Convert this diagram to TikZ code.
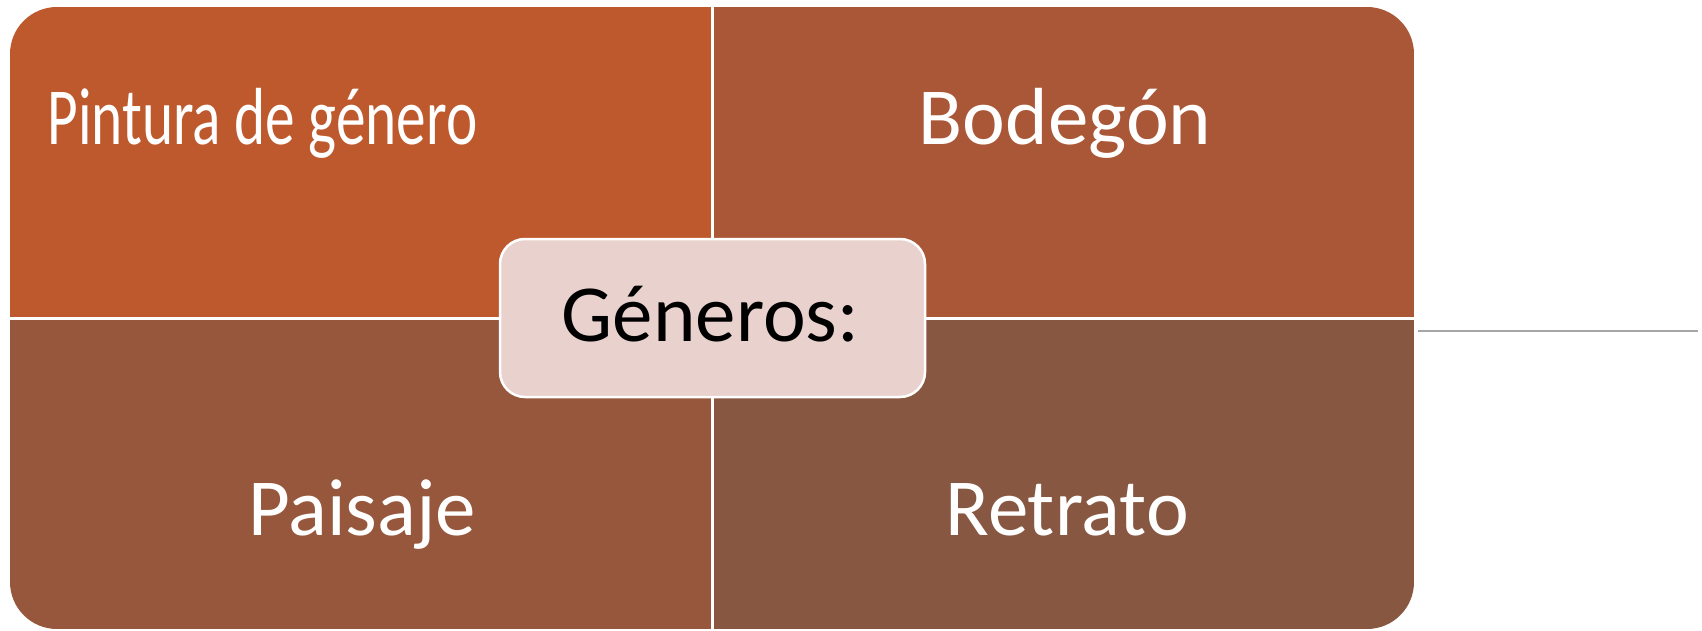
\documentclass[tikz,border=0pt]{standalone}
\usepackage{graphicx}
\usepackage{fontspec}
\setmainfont{Carlito}
\definecolor{qTL}{RGB}{190,89,45}
\definecolor{qTR}{RGB}{169,87,54}
\definecolor{qBL}{RGB}{150,87,60}
\definecolor{qBR}{RGB}{135,87,66}
\definecolor{cfill}{RGB}{233,209,205}
\definecolor{lgray}{RGB}{166,166,166}
\tikzset{
  qlabel/.style={anchor=base, text=white, inner sep=0pt, font=\fontsize{81}{97}\selectfont},
  clabel/.style={anchor=base, text=black, inner sep=0pt, font=\fontsize{81}{97}\selectfont},
  cbox/.style={draw=white, line width=2.5pt, fill=cfill, rounded corners=25pt, minimum width=425pt, minimum height=158pt, inner sep=0pt}
}
\begin{document}
\begin{tikzpicture}[x=1pt,y=-1pt]
\useasboundingbox (0,0) rectangle (1702,631);
\begin{scope}
  \clip[rounded corners=47pt] (10,7) rectangle (1414,629);
  \fill[qTL] (10,7) rectangle (710.5,317);
  \fill[qTR] (713.5,7) rectangle (1414,317);
  \fill[qBL] (10,320) rectangle (710.5,629);
  \fill[qBR] (713.5,320) rectangle (1414,629);
\end{scope}
\node[qlabel] (tl) at (262.5,145) {\scalebox{0.732}[1]{Pintura de género}};
\node[qlabel] (tr) at (1065,145) {Bodegón};
\node[qlabel] (bl) at (362,535.5) {Paisaje};
\node[qlabel] (br) at (1067,535.5) {Retrato};
\node[cbox] (ctr) at (712.5,318) {};
\node[clabel] (ctrl) at (710.5,341.5) {Géneros:};
\coordinate (ga) at (1418,331);
\coordinate (gb) at (1698,331);
\draw[lgray, line width=1.5pt] (ga) -- (gb);
\end{tikzpicture}
\end{document}
